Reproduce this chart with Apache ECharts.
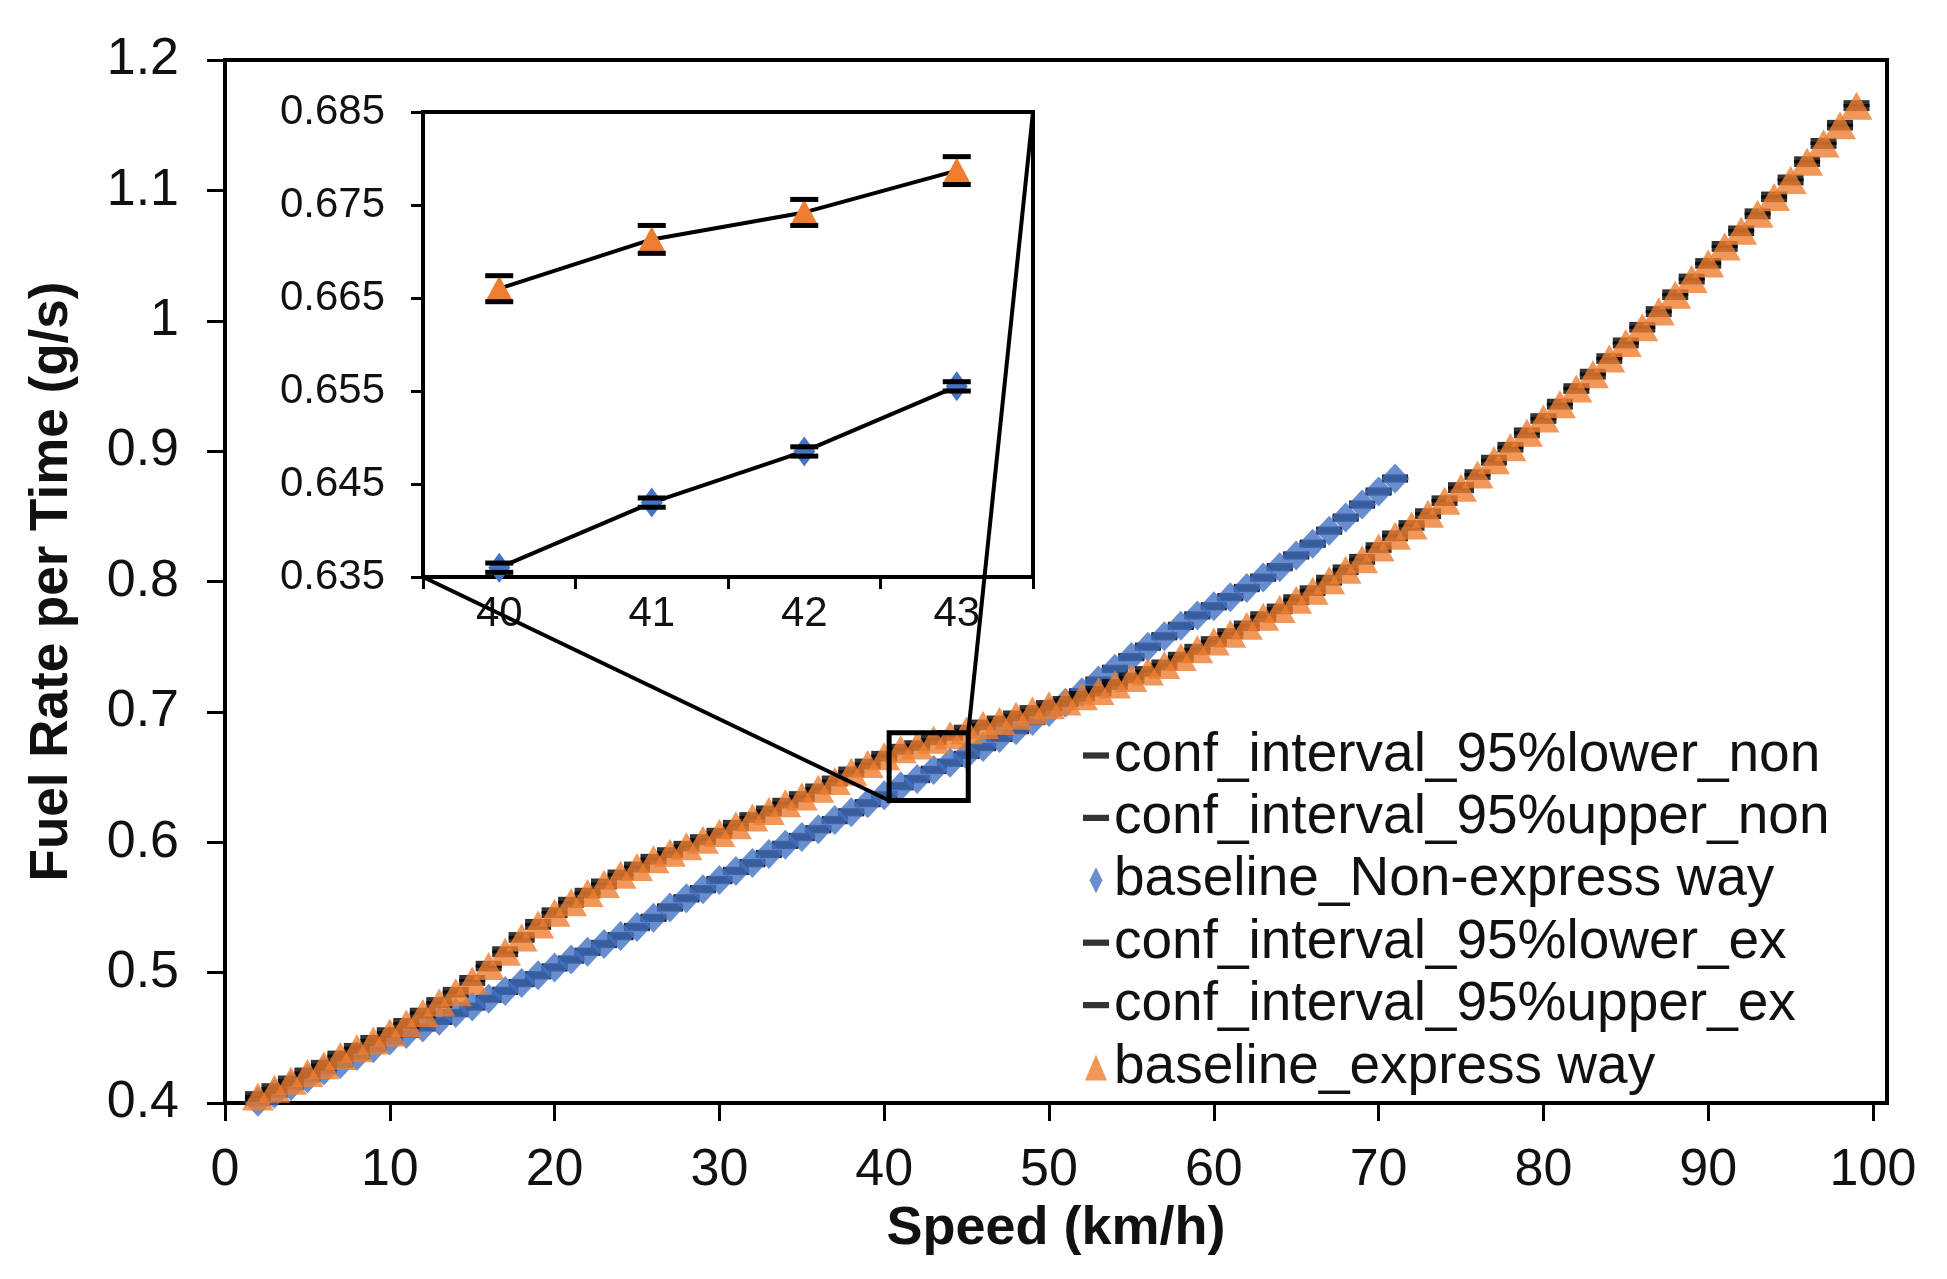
<!DOCTYPE html>
<html><head><meta charset="utf-8">
<script src="https://cdn.jsdelivr.net/npm/echarts@6/dist/echarts.min.js"></script>
<style>html,body{margin:0;padding:0;background:#fff}#c{width:1947px;height:1279px}</style>
</head><body><div id="c"></div>
<script>
// ---- data ----
const speeds = [2,3,4,5,6,7,8,9,10,11,12,13,14,15,16,17,18,19,20,21,22,23,24,25,26,27,28,29,30,31,32,33,34,35,36,37,38,39,40,41,42,43,44,45,46,47,48,49,50,51,52,53,54,55,56,57,58,59,60,61,62,63,64,65,66,67,68,69,70,71,72,73,74,75,76,77,78,79,80,81,82,83,84,85,86,87,88,89,90,91,92,93,94,95,96,97,98,99];
const fuelNon = [
 0.401,0.407,0.413,0.419,0.425,0.430,0.436,0.442,0.448,0.453,
 0.458,0.463,0.469,0.474,0.480,0.486,0.492,0.498,0.504,0.510,
 0.516,0.522,0.528,0.535,0.542,0.550,0.557,0.564,0.571,0.578,
 0.584,0.591,0.598,0.604,0.610,0.617,0.623,0.630,0.636,0.643,
 0.6485,0.6555,0.661,0.667,0.673,0.680,0.686,0.693,0.700,0.707,
 0.715,0.724,0.733,0.742,0.750,0.758,0.766,0.774,0.781,0.788,
 0.795,0.803,0.811,0.820,0.829,0.839,0.849,0.859,0.869,0.879];
const fuelEx = [
 0.405,0.411,0.417,0.423,0.429,0.436,0.442,0.448,0.454,0.461,
 0.469,0.477,0.485,0.494,0.505,0.516,0.527,0.537,0.546,0.554,
 0.561,0.568,0.575,0.581,0.587,0.592,0.597,0.602,0.607,0.613,
 0.619,0.624,0.630,0.635,0.641,0.647,0.654,0.660,0.666,0.6713,
 0.6742,0.6787,0.682,0.686,0.690,0.693,0.697,0.701,0.705,0.708,
 0.712,0.716,0.721,0.726,0.731,0.736,0.742,0.748,0.754,0.760,
 0.766,0.773,0.779,0.786,0.793,0.801,0.809,0.817,0.826,0.835,
 0.843,0.852,0.862,0.872,0.882,0.893,0.903,0.914,0.925,0.936,
 0.948,0.959,0.971,0.983,0.995,1.007,1.020,1.032,1.044,1.057,
 1.069,1.082,1.095,1.108,1.122,1.136,1.150,1.165];
// 95% confidence half-widths
const ciNon = [
 0.0005,0.0005,0.0005,0.0005,0.0005,0.0005,0.0005,0.0005,0.0005,0.0005,
 0.0005,0.0005,0.0005,0.0005,0.0005,0.0005,0.0005,0.0005,0.0005,0.0005,
 0.0005,0.0005,0.0005,0.0005,0.0005,0.0005,0.0005,0.0005,0.0005,0.0005,
 0.0005,0.0005,0.0005,0.0005,0.0005,0.0005,0.0005,0.0005,0.0005,0.0005,
 0.0005,0.0005,0.0005,0.0005,0.0005,0.0005,0.0005,0.0005,0.0005,0.0005,
 0.0005,0.0005,0.0005,0.0005,0.0005,0.0005,0.0005,0.0005,0.0005,0.0005,
 0.0005,0.0005,0.0005,0.0005,0.0005,0.0005,0.0005,0.0005,0.0005,0.0005];
const ciEx = [
 0.0014,0.0015,0.0014,0.0015,0.0014,0.0015,0.0014,0.0015,0.0014,0.0015,
 0.0014,0.0015,0.0014,0.0015,0.0014,0.0015,0.0014,0.0015,0.0014,0.0015,
 0.0014,0.0015,0.0014,0.0015,0.0014,0.0015,0.0014,0.0015,0.0014,0.0015,
 0.0014,0.0015,0.0014,0.0015,0.0014,0.0015,0.0014,0.0015,0.0014,0.0015,
 0.0014,0.0015,0.0014,0.0015,0.0014,0.0015,0.0014,0.0015,0.0014,0.0015,
 0.0014,0.0015,0.0014,0.0015,0.0014,0.0015,0.0014,0.0015,0.0014,0.0015,
 0.0014,0.0015,0.0014,0.0015,0.0014,0.0015,0.0014,0.0015,0.0014,0.0015,
 0.0014,0.0015,0.0014,0.0015,0.0014,0.0015,0.0014,0.0015,0.0014,0.0015,
 0.0014,0.0015,0.0014,0.0015,0.0014,0.0015,0.0014,0.0015,0.0014,0.0015,
 0.0014,0.0015,0.0014,0.0015,0.0014,0.0015,0.0014,0.0015];
const xTicks = [0,10,20,30,40,50,60,70,80,90,100];
const insetCats = ['40','41','42','43'];
const zoomBoxX = [40.3, 45.1];
const zoomBoxY = [0.632, 0.684];
const seriesNames = ['conf_interval_95%lower_non','conf_interval_95%upper_non','baseline_Non-express way','conf_interval_95%lower_ex','conf_interval_95%upper_ex','baseline_express way'];

// ---- layout / style ----
const FONT = "'Liberation Sans', Arial, sans-serif";
const BLUE = '#4472C4', ORANGE = '#ED7D31', TXT = '#111';
const MAIN = {left:225, top:60, width:1662, height:1043};
const INSET = {left:423, top:112, width:610, height:465};

const nonPts = fuelNon.map((v,i)=>[speeds[i], v]);
const nonLo  = fuelNon.map((v,i)=>[speeds[i], v - ciNon[i]]);
const nonHi  = fuelNon.map((v,i)=>[speeds[i], v + ciNon[i]]);
const exPts  = fuelEx.map((v,i)=>[speeds[i], v]);
const exLo   = fuelEx.map((v,i)=>[speeds[i], v - ciEx[i]]);
const exHi   = fuelEx.map((v,i)=>[speeds[i], v + ciEx[i]]);

const i0 = speeds.indexOf(Number(insetCats[0]));
const insetIdx = insetCats.map((c,k)=>i0+k);
const insetNon = insetIdx.map(i=>fuelNon[i]);
const insetEx  = insetIdx.map(i=>fuelEx[i]);
const insetNonErr = insetIdx.map((i,k)=>[k, fuelNon[i], fuelNon[i]-ciNon[i], fuelNon[i]+ciNon[i]]);
const insetExErr  = insetIdx.map((i,k)=>[k, fuelEx[i], fuelEx[i]-ciEx[i], fuelEx[i]+ciEx[i]]);

const DASH = {type:'scatter', symbol:'rect', symbolSize:[26,7], itemStyle:{color:'#000'}, xAxisIndex:0, yAxisIndex:0};

function errRender(params, api){
  const c = api.coord([api.value(0), api.value(1)]);
  const l = api.coord([api.value(0), api.value(2)]);
  const h = api.coord([api.value(0), api.value(3)]);
  const w = 14, st = {stroke:'#000', lineWidth:5};
  return {type:'group', children:[
    {type:'line', shape:{x1:c[0]-w, y1:l[1], x2:c[0]+w, y2:l[1]}, style:st},
    {type:'line', shape:{x1:c[0]-w, y1:h[1], x2:c[0]+w, y2:h[1]}, style:st}
  ]};
}

const chart = echarts.init(document.getElementById('c'), null, {renderer:'canvas'});
const option = {
  animation:false,
  backgroundColor:'#fff',
  textStyle:{fontFamily:FONT},
  grid:[
    {left:MAIN.left, top:MAIN.top, width:MAIN.width, height:MAIN.height, show:true, borderColor:'#000', borderWidth:4, backgroundColor:'transparent'},
    {left:INSET.left, top:INSET.top, width:INSET.width, height:INSET.height, show:true, borderColor:'#000', borderWidth:4, backgroundColor:'#fff', z:5}
  ],
  xAxis:[
    {type:'value', gridIndex:0, min:0, max:100.85,
     name:'Speed (km/h)', nameLocation:'middle', nameGap:98,
     nameTextStyle:{fontFamily:FONT, fontSize:54, fontWeight:'bold', color:TXT},
     axisLine:{show:true, lineStyle:{color:'#000', width:4}},
     axisTick:{show:true, inside:false, length:18, lineStyle:{color:'#000', width:3}, customValues:xTicks},
     axisLabel:{fontFamily:FONT, fontSize:52, color:TXT, margin:42, customValues:xTicks},
     splitLine:{show:false}},
    {type:'category', gridIndex:1, data:insetCats, boundaryGap:true, z:6,
     axisLine:{show:true, lineStyle:{color:'#000', width:4}},
     axisTick:{show:true, inside:false, alignWithLabel:false, length:12, lineStyle:{color:'#000', width:3}},
     axisLabel:{fontFamily:FONT, fontSize:42, color:TXT, margin:16},
     splitLine:{show:false}}
  ],
  yAxis:[
    {type:'value', gridIndex:0, min:0.4, max:1.2, interval:0.1,
     name:'Fuel Rate per Time (g/s)', nameLocation:'middle', nameGap:146,
     nameTextStyle:{fontFamily:FONT, fontSize:53, fontWeight:'bold', color:TXT},
     axisLine:{show:true, lineStyle:{color:'#000', width:4}},
     axisTick:{show:true, inside:false, length:18, lineStyle:{color:'#000', width:3}},
     axisLabel:{fontFamily:FONT, fontSize:52, color:TXT, margin:46, formatter:v=>String(+v.toFixed(1))},
     splitLine:{show:false}},
    {type:'value', gridIndex:1, min:0.635, max:0.685, interval:0.01, z:6,
     axisLine:{show:true, lineStyle:{color:'#000', width:4}},
     axisTick:{show:true, inside:false, length:12, lineStyle:{color:'#000', width:3}},
     axisLabel:{fontFamily:FONT, fontSize:42, color:TXT, margin:38, formatter:v=>v.toFixed(3)},
     splitLine:{show:false}}
  ],
  legend:{
    orient:'vertical', left:1078, top:723, itemWidth:26, itemHeight:26, itemGap:7.4,
    textStyle:{fontFamily:FONT, fontSize:55, color:TXT},
    data:[
      {name:seriesNames[0], icon:'path://M0,0H10V2.4H0Z'},
      {name:seriesNames[1], icon:'path://M0,0H10V2.4H0Z'},
      {name:seriesNames[2], icon:'path://M6,0L12,12L6,24L0,12Z'},
      {name:seriesNames[3], icon:'path://M0,0H10V2.4H0Z'},
      {name:seriesNames[4], icon:'path://M0,0H10V2.4H0Z'},
      {name:seriesNames[5], icon:'path://M11,0L22,26L0,26Z'}
    ]
  },
  series:[
    Object.assign({}, DASH, {name:seriesNames[0], data:nonLo, z:2}),
    Object.assign({}, DASH, {name:seriesNames[1], data:nonHi, z:2}),
    {type:'scatter', name:seriesNames[2], data:nonPts, symbol:'diamond', symbolSize:[28,30], itemStyle:{color:BLUE}, z:3},
    Object.assign({}, DASH, {name:seriesNames[3], data:exLo, z:4}),
    Object.assign({}, DASH, {name:seriesNames[4], data:exHi, z:4}),
    {type:'scatter', name:seriesNames[5], data:exPts, symbol:'triangle', symbolSize:[32,28], itemStyle:{color:ORANGE}, z:5},
    {type:'line', name:'inset_non', xAxisIndex:1, yAxisIndex:1, data:insetNon, z:7,
     symbol:'diamond', symbolSize:[22,30], itemStyle:{color:BLUE}, lineStyle:{color:'#000', width:4}},
    {type:'line', name:'inset_ex', xAxisIndex:1, yAxisIndex:1, data:insetEx, z:7,
     symbol:'triangle', symbolSize:[28,26], itemStyle:{color:ORANGE}, lineStyle:{color:'#000', width:4}},
    {type:'custom', name:'inset_non_err', xAxisIndex:1, yAxisIndex:1, data:insetNonErr, z:8,
     encode:{x:0, y:[1,2,3]}, renderItem:errRender},
    {type:'custom', name:'inset_ex_err', xAxisIndex:1, yAxisIndex:1, data:insetExErr, z:8,
     encode:{x:0, y:[1,2,3]}, renderItem:errRender}
  ]
};
chart.setOption(option);

// zoom box and connector lines, placed through the axes
const tl = chart.convertToPixel({xAxisIndex:0, yAxisIndex:0}, [zoomBoxX[0], zoomBoxY[1]]);
const br = chart.convertToPixel({xAxisIndex:0, yAxisIndex:0}, [zoomBoxX[1], zoomBoxY[0]]);
const ln = {stroke:'#000', lineWidth:4};
chart.setOption({graphic:[
  {type:'rect', z:20, shape:{x:tl[0], y:tl[1], width:br[0]-tl[0], height:br[1]-tl[1]}, style:{fill:'none', stroke:'#000', lineWidth:5}},
  {type:'line', z:20, shape:{x1:INSET.left, y1:INSET.top+INSET.height, x2:tl[0], y2:br[1]}, style:ln},
  {type:'line', z:20, shape:{x1:INSET.left+INSET.width, y1:INSET.top, x2:br[0], y2:tl[1]}, style:ln}
]});
</script></body></html>
